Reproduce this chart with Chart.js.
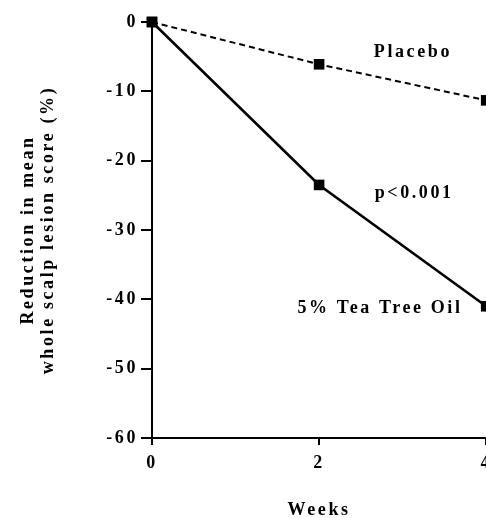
<!DOCTYPE html>
<html>
<head>
<meta charset="utf-8">
<script src="https://cdn.jsdelivr.net/npm/chart.js@4/dist/chart.umd.min.js"></script>
<style>
  html, body { margin: 0; padding: 0; background: #fff; overflow: hidden; }
  #wrap { width: 500px; height: 518px; }
</style>
</head>
<body>
<div id="wrap"><canvas id="c" width="500" height="518"></canvas></div>
<script>
// ---- data ----
const weeks = [0, 2, 4];
const placebo = [0, -6.1, -11.3];
const teaTreeOil = [0, -23.5, -41.0];
const yTicks = [0, -10, -20, -30, -40, -50, -60];
const xTickLabels = [0, 2, 4];
const yTitle = ["Reduction in mean", "whole scalp lesion score (%)"];
const xTitle = "Weeks";
const noteTexts = ["Placebo", "p<0.001", "5% Tea Tree Oil"];
const noteX = [2.655, 2.665, 1.74];
const noteY = [-4.4, -24.7, -41.3];

const FONT = "'Liberation Serif', 'Times New Roman', serif";
const SPACING = '2.6px';

const spacingPlugin = {
  id: 'spacing',
  beforeUpdate(chart) { chart.ctx.letterSpacing = SPACING; },
  beforeDraw(chart) { chart.ctx.letterSpacing = SPACING; }
};

const notesPlugin = {
  id: 'notes',
  afterDatasetsDraw(chart) {
    const ctx = chart.ctx;
    const xs = chart.scales.x, ys = chart.scales.y;
    ctx.save();
    ctx.letterSpacing = SPACING;
    ctx.font = "bold 18px " + FONT;
    ctx.fillStyle = '#000';
    ctx.textAlign = 'left';
    ctx.textBaseline = 'middle';
    noteTexts.forEach((t, i) => {
      ctx.fillText(t, xs.getPixelForValue(noteX[i]), ys.getPixelForValue(noteY[i]));
    });
    ctx.restore();
  }
};

new Chart(document.getElementById('c'), {
  type: 'line',
  data: {
    datasets: [
      {
        label: 'Placebo',
        data: weeks.map((w, i) => ({x: w, y: placebo[i]})),
        borderColor: '#000',
        backgroundColor: '#000',
        borderWidth: 2,
        borderDash: [6, 4],
        pointStyle: 'rect',
        pointRadius: 7.5,
        pointBorderWidth: 0,
        pointBackgroundColor: '#000',
        clip: false,
        tension: 0
      },
      {
        label: '5% Tea Tree Oil',
        data: weeks.map((w, i) => ({x: w, y: teaTreeOil[i]})),
        borderColor: '#000',
        backgroundColor: '#000',
        borderWidth: 2.6,
        pointStyle: 'rect',
        pointRadius: 7.5,
        pointBorderWidth: 0,
        pointBackgroundColor: '#000',
        clip: false,
        tension: 0
      }
    ]
  },
  options: {
    responsive: false,
    animation: false,
    events: [],
    layout: { padding: { top: 22, right: 12, left: 0, bottom: 0 } },
    plugins: { legend: { display: false }, tooltip: { enabled: false } },
    scales: {
      x: {
        type: 'linear',
        min: 0,
        max: 4,
        afterFit(s) { s.height = 80; },
        afterBuildTicks(s) { s.ticks = xTickLabels.map(v => ({value: v})); },
        border: { display: true, color: '#000', width: 2 },
        grid: { display: true, drawOnChartArea: false, drawTicks: true, tickLength: 7, color: '#000', lineWidth: 2 },
        ticks: { color: '#000', padding: 8, font: { family: FONT, size: 18, weight: 'bold' }, maxRotation: 0 },
        title: { display: true, text: xTitle, color: '#000', padding: { top: 0, bottom: 0 }, font: { family: FONT, size: 18, weight: 'bold', lineHeight: 0.9 } }
      },
      y: {
        type: 'linear',
        min: -60,
        max: 0,
        afterFit(s) { s.width = 152; },
        afterBuildTicks(s) { s.ticks = yTicks.map(v => ({value: v})); },
        border: { display: true, color: '#000', width: 2 },
        grid: { display: true, drawOnChartArea: false, drawTicks: true, tickLength: 11, color: '#000', lineWidth: 2 },
        ticks: { color: '#000', padding: 3, font: { family: FONT, size: 18, weight: 'bold' } },
        title: { display: true, text: yTitle, color: '#000', padding: { top: 18, bottom: 0 }, font: { family: FONT, size: 18, weight: 'bold', lineHeight: 1.12 } }
      }
    }
  },
  plugins: [spacingPlugin, notesPlugin]
});
</script>
</body>
</html>
